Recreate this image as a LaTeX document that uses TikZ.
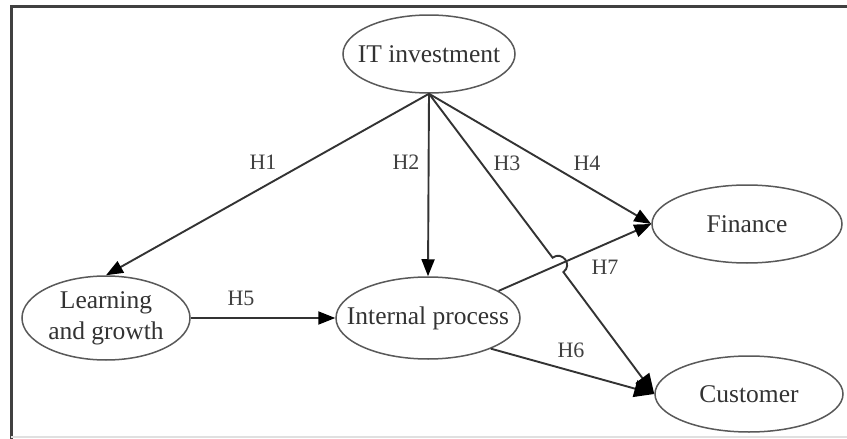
\documentclass[tikz,border=0pt]{standalone}
\usepackage{fontspec}
\setmainfont{Liberation Serif}
\usetikzlibrary{arrows.meta,calc,shapes.geometric}
\begin{document}
\begin{tikzpicture}[x=1pt,y=-1pt,
  var/.style={draw=black!65,line width=1.5pt,ellipse,inner sep=0pt,
    label={[text=black!80,font=\fontsize{25.5}{31}\selectfont,align=center]center:#1}},
  conn/.style={draw=black!80,line width=1.9pt,-{Triangle[length=17pt,width=13pt,fill=black,color=black]}},
  bigconn/.style={draw=black!80,line width=1.9pt,-{Triangle[length=20pt,width=17pt,fill=black,color=black]}},
  hlab/.style={text=black!75,font=\fontsize{22}{24}\selectfont,inner sep=0pt}]
\useasboundingbox (0,0) rectangle (847,439);
\fill[white] (0,0) rectangle (847,439);
% frame
\draw[black!75,line width=3pt] (11,439) -- (11,6) -- (847,6);
\draw[black!12,line width=1.5pt] (11,437) -- (847,437);
% nodes
\node[var={IT investment},minimum width=172,minimum height=78] (it) at (429,54) {};
\node[var={Learning\\and growth},minimum width=168,minimum height=84] (lg) at (106,318) {};
\node[var={Internal process},minimum width=184,minimum height=82] (ip) at (428,318) {};
\node[var={Finance},minimum width=190,minimum height=78] (fin) at (747,224) {};
\node[var={Customer},minimum width=188,minimum height=76] (cust) at (749,394) {};
% jump coordinates
\coordinate (j1) at (552.6,257.7);
\coordinate (c1) at (562.2,250.5);
\coordinate (c2) at (573.0,264.9);
\coordinate (j2) at (563.4,272.1);
% connectors
\draw[conn] (it.south) -- (lg.north);
\draw[conn] (it.south) -- (ip.north);
\draw[bigconn] (it.south) -- (j1) .. controls (c1) and (c2) .. (j2) -- (cust.west);
\draw[conn] (it.south) -- (fin.west);
\draw[conn] (lg.east) -- (ip.west);
\draw[conn] (ip.21) -- (fin.west);
\draw[bigconn] (ip.-26) -- (cust.west);
% labels
\node[hlab] (h1) at (263,162) {H1};
\node[hlab] (h2) at (406,162) {H2};
\node[hlab] (h3) at (507,163) {H3};
\node[hlab] (h4) at (587,163) {H4};
\node[hlab] (h5) at (241,298) {H5};
\node[hlab] (h6) at (571,350) {H6};
\node[hlab] (h7) at (605,267) {H7};
\end{tikzpicture}
\end{document}
